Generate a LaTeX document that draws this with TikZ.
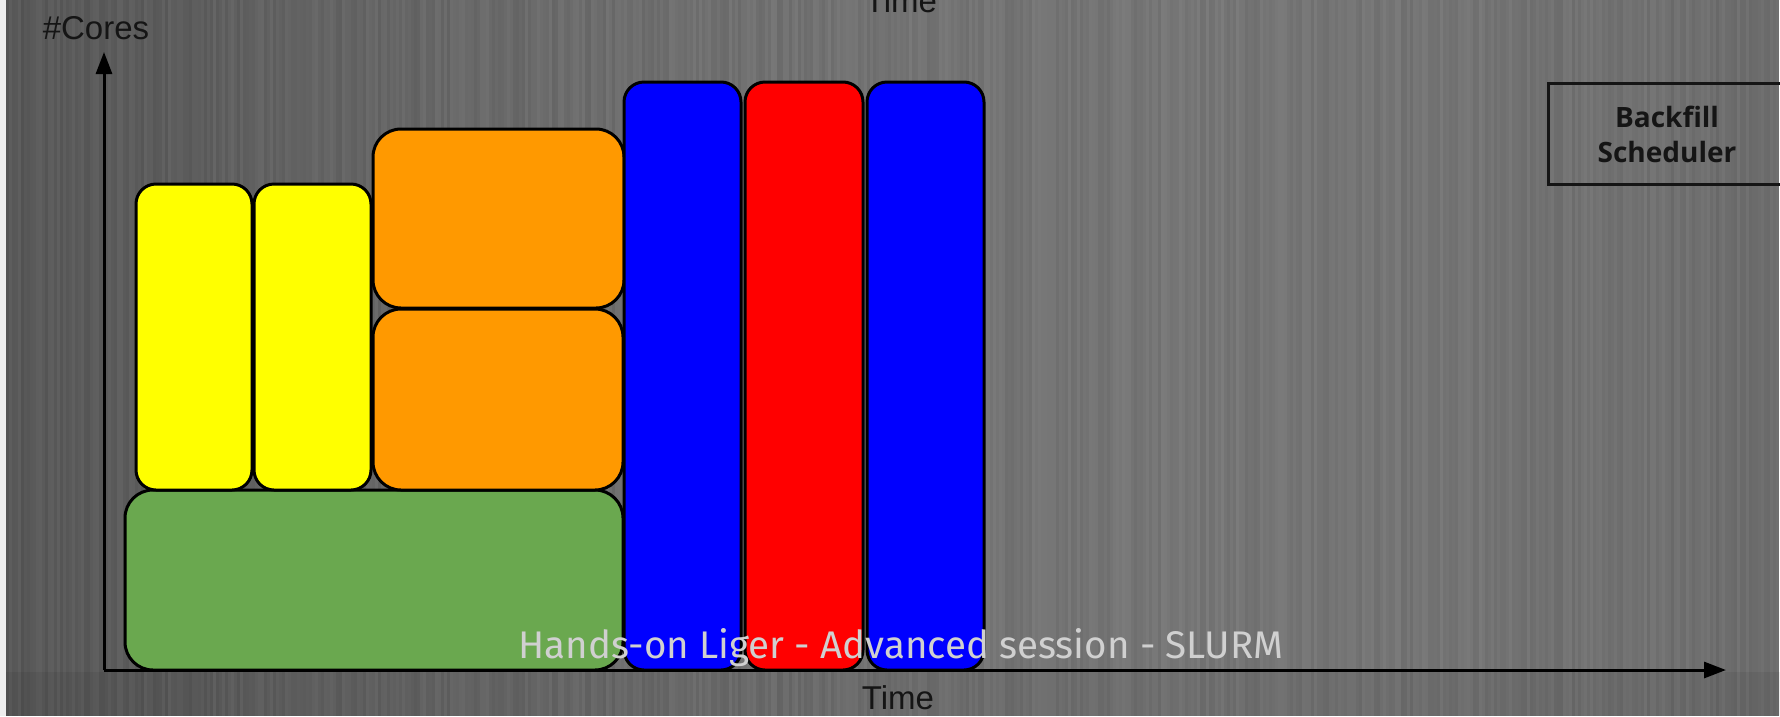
\documentclass[tikz,border=0pt]{standalone}
\usepackage{fontspec}
\setmainfont{Liberation Sans}
\newfontfamily\footfont{Fira Sans}
\newfontfamily\boxfont{Open Sans}
\usetikzlibrary{arrows.meta}
\definecolor{jobyellow}{HTML}{FFFF00}
\definecolor{joborange}{HTML}{FF9900}
\definecolor{jobblue}{HTML}{0000FF}
\definecolor{jobred}{HTML}{FF0000}
\definecolor{jobgreen}{HTML}{6AA84F}
\definecolor{labelink}{HTML}{151515}
\definecolor{footink}{HTML}{D0D0D0}
\definecolor{edgestrip}{HTML}{EEEEEE}
\tikzset{
  jobbox/.style={draw=black, line width=3pt, inner sep=0pt, outer sep=0pt, rounded corners=20pt},
  axisline/.style={line width=3pt, draw=black, -{Triangle[length=22pt,width=16pt]}},
  axislabel/.style={font=\fontsize{33}{38}\selectfont, text=labelink, anchor=base, inner sep=0pt},
}
\begin{document}
\begin{tikzpicture}[x=1pt,y=-1pt]
\useasboundingbox (0,0) rectangle (1780,716);
\clip (0,0) rectangle (1780,716);
% brushed metal background
\pgfmathsetseed{12}
\foreach \i in {0,...,592}{
  \pgfmathsetmacro\xx{3*\i}
  \pgfmathsetmacro\g{0.34+0.12*sin(\xx/2400*180)+0.025*rand}
  \definecolor{strp}{gray}{\g}
  \fill[strp] (\xx,0) rectangle (\xx+3.4,716);
}
\fill[black, opacity=0.06] (0,672) rectangle (1780,716);
\fill[edgestrip] (0,0) rectangle (6,716);
% jobs
\node[jobbox, fill=jobgreen, rounded corners=28pt, minimum width=498pt, minimum height=180pt] (green) at (374,580) {};
\node[jobbox, fill=jobyellow, minimum width=116pt, minimum height=306pt] (yel1) at (194,337) {};
\node[jobbox, fill=jobyellow, minimum width=117pt, minimum height=306pt] (yel2) at (312.5,337) {};
\node[jobbox, fill=joborange, rounded corners=28pt, minimum width=251pt, minimum height=179pt] (ora1) at (498.5,218.5) {};
\node[jobbox, fill=joborange, rounded corners=28pt, minimum width=250pt, minimum height=181pt] (ora2) at (498,399.5) {};
\node[jobbox, fill=jobblue, minimum width=117pt, minimum height=588pt] (blu1) at (682.5,376) {};
\node[jobbox, fill=jobred, minimum width=118pt, minimum height=588pt] (red1) at (804,376) {};
\node[jobbox, fill=jobblue, minimum width=117pt, minimum height=588pt] (blu2) at (925.5,376) {};
% axes
\coordinate (orig) at (104,670);
\coordinate (ytip) at (104,52);
\coordinate (xtip) at (1726,670);
\draw[axisline] (orig) -- (ytip);
\draw[axisline] (orig) -- (xtip);
\node[axislabel] (cores) at (96,39) {\#Cores};
\node[axislabel] (timetop) at (901,12) {Time};
\node[axislabel] (timebot) at (898,709) {Time};
% backfill box
\node[draw=labelink, line width=3pt, minimum width=252pt, minimum height=101pt, inner sep=0pt] (bfbox) at (1674,133.5) {};
\node[font=\boxfont\bfseries\fontsize{28}{35}\selectfont, text=labelink, align=center, inner sep=0pt] (bftext) at (1667,134) {Backfill\\Scheduler};
% footer
\node[font=\footfont\fontsize{38.5}{42}\selectfont, text=footink, anchor=base, inner sep=0pt] (footer) at (901,658) {Hands-on Liger - Advanced session - SLURM};
\end{tikzpicture}
\end{document}
